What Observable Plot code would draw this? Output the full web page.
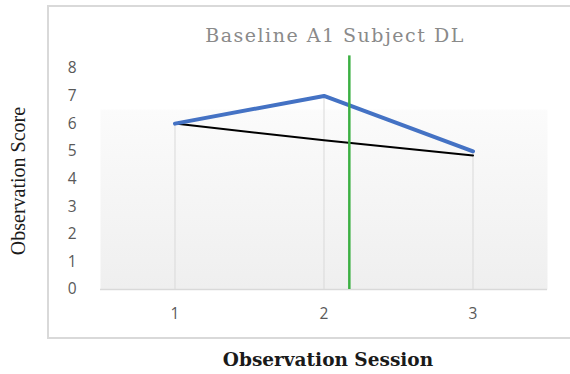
<!DOCTYPE html>
<html>
<head>
<meta charset="utf-8">
<script src="https://cdn.jsdelivr.net/npm/d3@7"></script>
<script src="https://cdn.jsdelivr.net/npm/@observablehq/plot@0.6"></script>
<style>
  html, body { margin: 0; padding: 0; background: #fff; }
  #chart { width: 570px; height: 374px; overflow: hidden; }
  .chart-title text { letter-spacing: 1.5px; }
</style>
</head>
<body>
<div id="chart"></div>
<script>
// ---- data ----
const sessions = [1, 2, 3];
const scores = [6, 7, 5];
const trend = [6, 5.4, 4.85];
const phaseChangeX = [2.17];
const phaseChangeTop = 8.45;
const yTicks = [0, 1, 2, 3, 4, 5, 6, 7, 8];
const xTicks = [1, 2, 3];
const titleText = "Baseline A1 Subject DL";
const xTitle = "Observation Session";
const yTitle = "Observation Score";

const data = sessions.map((s, i) => ({session: s, score: scores[i], trend: trend[i]}));

const tickFont = "'Open Sans', 'Liberation Sans', sans-serif";
const serif = "'Liberation Serif', 'DejaVu Serif', serif";
const wideSerif = "'DejaVu Serif', 'Liberation Serif', serif";

const svg = Plot.plot({
  width: 570,
  height: 374,
  marginLeft: 100,
  marginRight: 23,
  marginTop: 54,
  marginBottom: 85,
  style: {background: "white", fontFamily: tickFont, overflow: "visible"},
  x: {domain: [0.5, 3.5], label: null},
  y: {domain: [0, 8.5], label: null},
  marks: [
    Plot.frame({fill: "url(#plotbg)", stroke: null}),
    Plot.ruleX(data, {x: "session", y1: 0, y2: "score", stroke: "#d9d9d9", strokeWidth: 1}),
    Plot.ruleY([0], {stroke: "#d9d9d9", strokeWidth: 1.5}),
    Plot.line(data, {x: "session", y: "trend", stroke: "#000", strokeWidth: 2}),
    Plot.line(data, {x: "session", y: "score", stroke: "#4472c4", strokeWidth: 4, strokeLinejoin: "miter"}),
    Plot.ruleX(phaseChangeX, {y1: 0, y2: phaseChangeTop, stroke: "#3cb043", strokeWidth: 2.5}),
    Plot.axisY({ticks: yTicks, tickSize: 0, tickPadding: 24, fontSize: 15.5, fill: "#595959", label: null}),
    Plot.axisX({ticks: xTicks, tickFormat: "d", tickSize: 0, tickPadding: 18, fontSize: 15.5, fill: "#595959", label: null}),
    Plot.text([titleText], {frameAnchor: "top", dx: 11, dy: -19, fontSize: 19, fill: "#8a8a8a", fontFamily: wideSerif, lineAnchor: "middle", textAnchor: "middle", className: "chart-title"}),
    Plot.text([xTitle], {frameAnchor: "bottom", dx: 4, dy: 71, fontSize: 18.5, fill: "#1a1a1a", fontWeight: "bold", fontFamily: wideSerif, lineAnchor: "middle", textAnchor: "middle"}),
    Plot.text([yTitle], {frameAnchor: "left", dx: -82, dy: 9, rotate: -90, fontSize: 20, fill: "#1a1a1a", fontFamily: serif, lineAnchor: "middle", textAnchor: "middle"})
  ]
});

// gradient + outer chart border (decoration)
const s = d3.select(svg);
const defs = s.insert("defs", ":first-child");
const g = defs.append("linearGradient").attr("id", "plotbg").attr("x1", 0).attr("y1", 0).attr("x2", 0).attr("y2", 1);
g.append("stop").attr("offset", 0.23).attr("stop-color", "#ffffff");
g.append("stop").attr("offset", 0.24).attr("stop-color", "#fbfbfb");
g.append("stop").attr("offset", 1).attr("stop-color", "#efefef");
s.insert("rect", "defs + *")
  .attr("x", 48).attr("y", 6).attr("width", 540).attr("height", 332)
  .attr("fill", "none").attr("stroke", "#d9d9d9").attr("stroke-width", 2);

document.getElementById("chart").appendChild(svg);
</script>
</body>
</html>
